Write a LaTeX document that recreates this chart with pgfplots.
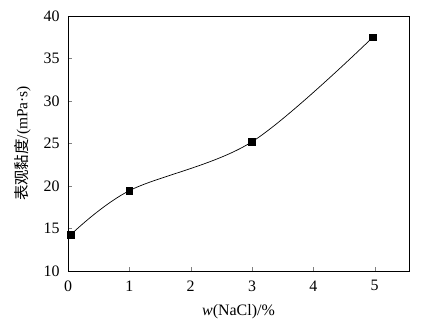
\documentclass[border=0pt]{standalone}
\usepackage{fontspec}
\setmainfont{Liberation Serif}
\newfontfamily\cjk{Noto Sans CJK SC}
\usepackage{pgfplots}
\pgfplotsset{compat=1.18}
\begin{document}
\begin{tikzpicture}
\begin{axis}[
  scale only axis,
  width=341bp, height=255bp,
  xmin=0, xmax=5.56, ymin=10, ymax=40,
  xtick={0,1,2,3,4,5}, ytick={10,15,20,25,30,35,40},
  tick align=inside,
  xtick pos=bottom, ytick pos=left,
  major tick length=4bp,
  tick label style={font=\fontsize{16}{18}\selectfont},
  xticklabel style={yshift=-6bp},
  yticklabel style={xshift=-5bp},
  /pgf/number format/assume math mode=true,
  xlabel={\fontsize{16}{18}\selectfont\textit{w}(NaCl)/\%},
  ylabel={\fontsize{15.5}{17}\selectfont{\cjk 表观黏度}/(mPa·s)},
  xlabel style={yshift=-6bp},
  ylabel style={yshift=6bp},
  axis line style={line width=0.8pt},
]
\addplot[black, line width=0.7pt, smooth, tension=0.55, mark=square*, mark size=3.4bp] coordinates {
  (0.05,14.3) (1,19.45) (3,25.2) (4.97,37.5)
};
\end{axis}
\path (current axis.south west) ++(-68bp,-54bp) coordinate (bbA);
\path (current axis.north east) ++(29bp,16bp) coordinate (bbB);
\path (bbA) rectangle (bbB);
\end{tikzpicture}
\end{document}
